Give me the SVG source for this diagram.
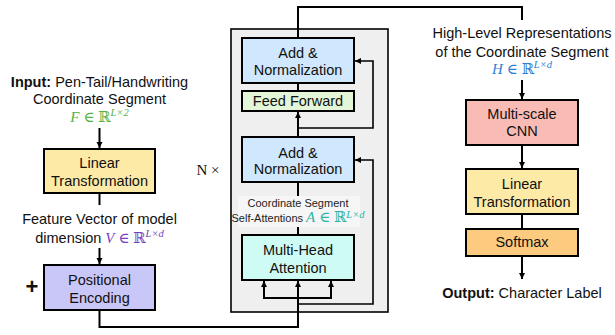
<svg xmlns="http://www.w3.org/2000/svg" width="615" height="335" viewBox="0 0 615 335">
  <style>
    .box { stroke: #000; stroke-width: 2; }
    .t { font-family: "Liberation Sans", Arial, sans-serif; font-size: 14.5px; fill: #111; text-anchor: middle; }
    .s { font-family: "Liberation Sans", Arial, sans-serif; font-size: 11px; fill: #222; text-anchor: middle; }
    .b { font-weight: bold; }
    .m { font-family: "Liberation Serif", "DejaVu Serif", serif; font-size: 15px; }
    .i { font-style: italic; }
    .sup { font-size: 10.5px; font-style: italic; }
    .w { fill: none; stroke: #000; stroke-width: 2; }
    .r { fill: none; stroke: #000; stroke-width: 1.6; }
  </style>
  <defs>
    <marker id="arr" markerUnits="userSpaceOnUse" markerWidth="8" markerHeight="8" refX="6" refY="4" orient="auto">
      <path d="M0,1 L6,4 L0,7 Z" fill="#000"/>
    </marker>
  </defs>
  <rect width="615" height="335" fill="#fff"/>

  <!-- encoder stack frame -->
  <g id="encoder-stack">
    <rect x="231" y="29" width="157" height="283" fill="#efefef" stroke="#000" stroke-width="1.6"/>
    <text x="208" y="175" font-family="Liberation Serif, serif" font-size="15" text-anchor="middle" fill="#111">N ×</text>
  </g>

  <!-- connectors -->
  <g id="connectors">
    <line class="w" x1="99.5" y1="128" x2="99.5" y2="148" marker-end="url(#arr)"/>
    <line class="w" x1="99.5" y1="193" x2="99.5" y2="205"/>
    <line class="w" x1="99.5" y1="248" x2="99.5" y2="264" marker-end="url(#arr)"/>
    <polyline class="w" points="99.5,310 99.5,327 298,327 298,281" marker-end="url(#arr)"/>
    <polyline class="w" points="298,298 264,298 264,281" marker-end="url(#arr)"/>
    <polyline class="w" points="298,298 331,298 331,281" marker-end="url(#arr)"/>
    <polyline class="r" points="298,304 373,304 373,160 355,160" marker-end="url(#arr)"/>
    <line class="w" x1="298" y1="235" x2="298" y2="182"/>
    <line class="w" x1="298" y1="137" x2="298" y2="112" marker-end="url(#arr)"/>
    <polyline class="r" points="298,128 373,128 373,61 355,61" marker-end="url(#arr)"/>
    <line class="w" x1="298" y1="91" x2="298" y2="83"/>
    <polyline class="w" points="298,38 298,7 522,7 522,20"/>
    <line class="w" x1="522" y1="80" x2="522" y2="99" marker-end="url(#arr)"/>
    <line class="w" x1="522" y1="145" x2="522" y2="168" marker-end="url(#arr)"/>
    <line class="w" x1="522" y1="214" x2="522" y2="229"/>
    <line class="w" x1="522" y1="256" x2="522" y2="279" marker-end="url(#arr)"/>
  </g>

  <!-- input label -->
  <g id="input-label">
    <text class="t" x="99.5" y="87"><tspan class="b">Input:</tspan> Pen-Tail/Handwriting</text>
    <text class="t" x="99.5" y="104">Coordinate Segment</text>
    <text class="m" x="99.5" y="122" text-anchor="middle" fill="#55b345"><tspan class="i">F</tspan> ∈ ℝ<tspan class="sup" dy="-6">L×2</tspan></text>
  </g>

  <g id="linear-in">
    <rect class="box" x="44" y="149" width="111" height="44" fill="#fdeaa7"/>
    <text class="t" x="99.5" y="168">Linear</text>
    <text class="t" x="99.5" y="186">Transformation</text>
  </g>

  <g id="feature-label">
    <text class="t" x="99.5" y="224">Feature Vector of model</text>
    <text class="t" x="99.5" y="243">dimension <tspan class="m i" fill="#7a3fc0">V</tspan><tspan class="m" fill="#7a3fc0"> ∈ ℝ</tspan><tspan class="m sup" fill="#7a3fc0" dy="-6">L×d</tspan></text>
  </g>

  <g id="positional-encoding">
    <rect class="box" x="44" y="265" width="111" height="45" fill="#c9c6f8"/>
    <text class="t" x="99.5" y="285">Positional</text>
    <text class="t" x="99.5" y="303">Encoding</text>
    <text x="32" y="294" font-family="Liberation Sans, Arial, sans-serif" font-size="22" font-weight="bold" text-anchor="middle" fill="#111">+</text>
  </g>

  <g id="add-norm-top">
    <rect class="box" x="242" y="38" width="112" height="45" fill="#cfe8fd"/>
    <text class="t" x="298" y="58">Add &amp;</text>
    <text class="t" x="298" y="75">Normalization</text>
  </g>

  <g id="feed-forward">
    <rect class="box" x="242" y="91" width="112" height="20" fill="#e3f6d8"/>
    <text class="t" x="298" y="106">Feed Forward</text>
  </g>

  <g id="add-norm-bottom">
    <rect class="box" x="242" y="137" width="112" height="45" fill="#cfe8fd"/>
    <text class="t" x="298" y="158">Add &amp;</text>
    <text class="t" x="298" y="174">Normalization</text>
  </g>

  <g id="attention-label">
    <rect x="238" y="196" width="122" height="31" fill="#f6f6f6"/>
    <text class="s" x="298" y="207">Coordinate Segment</text>
    <text class="s" x="298" y="222">Self-Attentions <tspan class="m i" font-size="12" fill="#2bb5a6">A</tspan><tspan class="m" font-size="12" fill="#2bb5a6"> ∈ ℝ</tspan><tspan class="m sup" font-size="8" fill="#2bb5a6" dy="-4">L×d</tspan></text>
  </g>

  <g id="multi-head-attention">
    <rect class="box" x="242" y="235" width="112" height="45" fill="#cffbf5"/>
    <text class="t" x="298" y="255">Multi-Head</text>
    <text class="t" x="298" y="273">Attention</text>
  </g>

  <g id="representation-label">
    <text class="t" x="522" y="38">High-Level Representations</text>
    <text class="t" x="522" y="57">of the Coordinate Segment</text>
    <text class="m" x="522" y="74" text-anchor="middle" fill="#2f80d2"><tspan class="i">H</tspan> ∈ ℝ<tspan class="sup" dy="-6">L×d</tspan></text>
  </g>

  <g id="multi-scale-cnn">
    <rect class="box" x="466" y="100" width="112" height="45" fill="#f9bcb5"/>
    <text class="t" x="522" y="119">Multi-scale</text>
    <text class="t" x="522" y="136">CNN</text>
  </g>

  <g id="linear-out">
    <rect class="box" x="466" y="169" width="112" height="45" fill="#fdeaa7"/>
    <text class="t" x="522" y="189">Linear</text>
    <text class="t" x="522" y="207">Transformation</text>
  </g>

  <g id="softmax">
    <rect class="box" x="466" y="229" width="112" height="27" fill="#fdcb80"/>
    <text class="t" x="522" y="247">Softmax</text>
  </g>

  <g id="output-label">
    <text class="t" x="522" y="298"><tspan class="b">Output:</tspan> Character Label</text>
  </g>
</svg>
